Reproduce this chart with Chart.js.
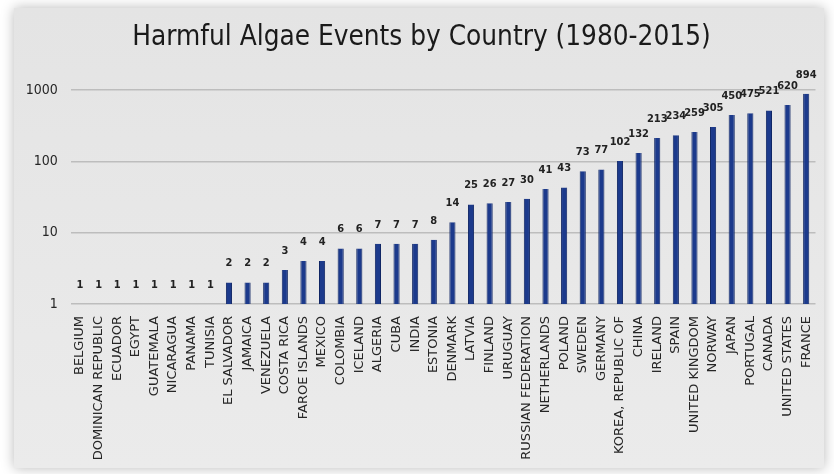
<!DOCTYPE html>
<html>
<head>
<meta charset="utf-8">
<script src="https://cdn.jsdelivr.net/npm/chart.js@4/dist/chart.umd.min.js"></script>
<style>
html,body{margin:0;padding:0;background:#fff;}
canvas{display:block;}
</style>
</head>
<body>
<canvas id="c" width="834" height="474"></canvas>
<script>
const countries = ["BELGIUM","DOMINICAN REPUBLIC","ECUADOR","EGYPT","GUATEMALA","NICARAGUA","PANAMA","TUNISIA","EL SALVADOR","JAMAICA","VENEZUELA","COSTA RICA","FAROE ISLANDS","MEXICO","COLOMBIA","ICELAND","ALGERIA","CUBA","INDIA","ESTONIA","DENMARK","LATVIA","FINLAND","URUGUAY","RUSSIAN FEDERATION","NETHERLANDS","POLAND","SWEDEN","GERMANY","KOREA, REPUBLIC OF","CHINA","IRELAND","SPAIN","UNITED KINGDOM","NORWAY","JAPAN","PORTUGAL","CANADA","UNITED STATES","FRANCE"];
const events = [1,1,1,1,1,1,1,1,2,2,2,3,4,4,6,6,7,7,7,8,14,25,26,27,30,41,43,73,77,102,132,213,234,259,305,450,475,521,620,894];
const yTicks = [1,10,100,1000];
const titleText = "Harmful Algae Events by Country (1980-2015)";

const cardBg = {
  id:'cardBg',
  beforeDraw(chart){
    const ctx = chart.ctx;
    ctx.save();
    ctx.fillStyle = '#ffffff';
    ctx.fillRect(0,0,chart.width,chart.height);
    ctx.shadowColor = 'rgba(0,0,0,0.28)';
    ctx.shadowBlur = 12;
    ctx.fillStyle = '#e6e6e6';
    ctx.fillRect(14,8,810,460);
    ctx.restore();
    ctx.save();
    const g = ctx.createLinearGradient(0,8,0,468);
    g.addColorStop(0,'#e4e4e4');
    g.addColorStop(1,'#ebebeb');
    ctx.fillStyle = g;
    ctx.fillRect(14,8,810,460);
    ctx.restore();
  }
};

const valueLabels = {
  id:'valueLabels',
  afterDraw(chart){
    const ctx = chart.ctx;
    const meta = chart.getDatasetMeta(0);
    ctx.save();
    ctx.font = 'bold 11px "DejaVu Sans Condensed"';
    ctx.fillStyle = '#222222';
    ctx.textAlign = 'center';
    ctx.textBaseline = 'middle';
    meta.data.forEach((bar,i)=>{
      ctx.fillText(String(events[i]), bar.x, bar.y - 19);
    });
    ctx.restore();
  }
};

new Chart(document.getElementById('c'), {
  type:'bar',
  data:{
    labels: countries,
    datasets:[{
      data: events,
      backgroundColor:'#1c3a8c',
      borderColor:'#102664',
      borderWidth:{left:1,right:1,top:0,bottom:0},
      barPercentage:0.33,
      categoryPercentage:1
    }]
  },
  options:{
    responsive:false,
    animation:false,
    layout:{padding:{left:26,right:17,top:6,bottom:0}},
    plugins:{
      legend:{display:false},
      tooltip:{enabled:false},
      title:{
        display:true,
        text:titleText,
        color:'#1a1a1a',
        font:{family:'"DejaVu Sans Condensed"',size:27.7,weight:'normal'},
        padding:{top:15,bottom:36}
      }
    },
    scales:{
      x:{
        grid:{display:false,drawTicks:false},
        border:{display:false},
        ticks:{
          autoSkip:false,maxRotation:90,minRotation:90,
          color:'#262626',padding:12,
          font:{family:'"DejaVu Sans"',size:13}
        },
        afterFit(scale){ scale.height = 170; }
      },
      y:{
        type:'logarithmic',
        min:1,max:1000,
        afterBuildTicks(scale){ scale.ticks = yTicks.map(v=>({value:v})); },
        grid:{color:'#bdbdbd',lineWidth:1.5,drawTicks:false},
        border:{display:false},
        ticks:{
          color:'#262626',padding:13,
          font:{family:'"DejaVu Sans Condensed"',size:14},
          callback:(v)=>String(v)
        },
        afterFit(scale){ scale.width = 44.7; }
      }
    }
  },
  plugins:[cardBg,valueLabels]
});
</script>
</body>
</html>
